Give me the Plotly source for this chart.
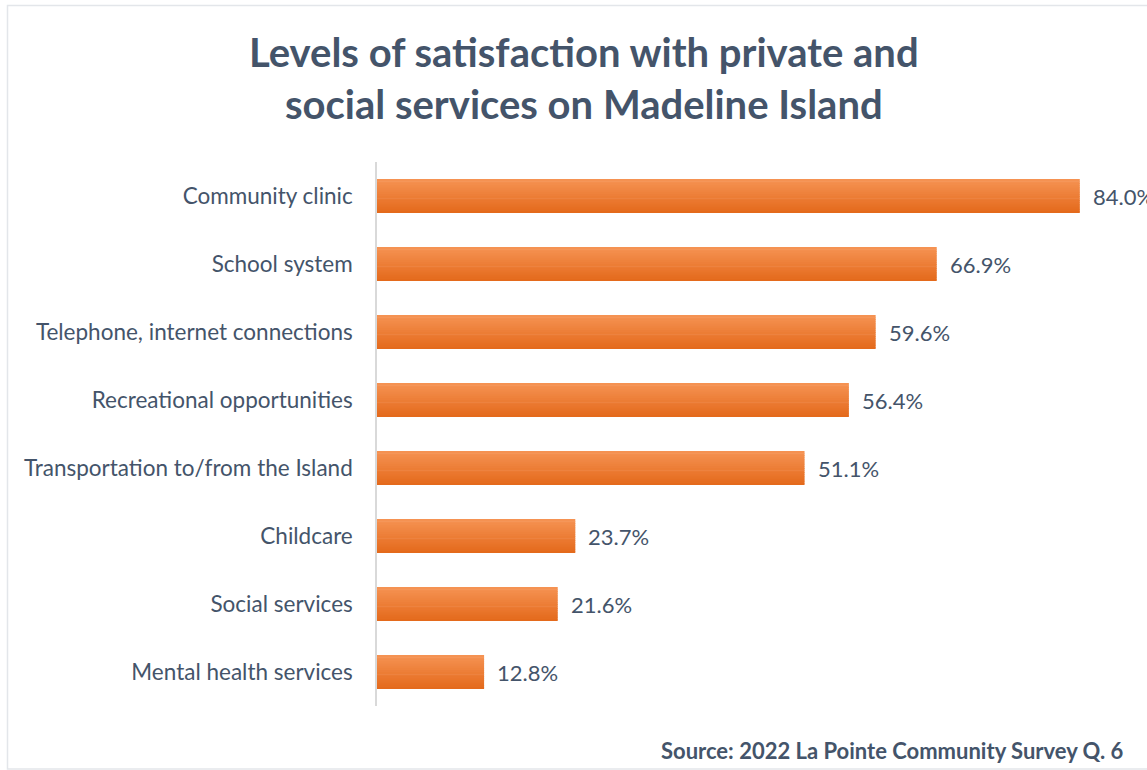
import plotly.graph_objects as go

# Survey results: share satisfied with each service
services = [
    "Community clinic",
    "School system",
    "Telephone, internet connections",
    "Recreational opportunities",
    "Transportation to/from the Island",
    "Childcare",
    "Social services",
    "Mental health services",
]
satisfied_pct = [84.0, 66.9, 59.6, 56.4, 51.1, 23.7, 21.6, 12.8]

TEXT = "#44546A"
FONT = "Lato"

# plot area in pixels, used to place page-level text in paper units
W, H = 1147, 770
L, R, T, B = 377, 17, 162, 64
PW, PH = W - L - R, H - T - B


def px(x):
    return (x - L) / PW


def py(y):
    return (H - B - y) / PH


# light-to-dark orange used to shade each bar from top to bottom
top_rgb = (245, 146, 82)
bot_rgb = (228, 106, 28)
n_slices = 16
bar_width = 0.5

fig = go.Figure()
for k in range(n_slices):
    t = k / (n_slices - 1)
    r, g, b = (round(a + (c - a) * t) for a, c in zip(top_rgb, bot_rgb))
    w = bar_width / n_slices
    fig.add_trace(go.Bar(
        x=satisfied_pct,
        y=services,
        orientation="h",
        width=w * 1.3 if k < n_slices - 1 else w,
        offset=-bar_width / 2 + k * w,
        marker=dict(color=f"rgb({r},{g},{b})", line=dict(width=0)),
        hoverinfo="x+y",
        showlegend=False,
    ))

for name, v in zip(services, satisfied_pct):
    fig.add_annotation(
        x=v, y=name, xref="x", yref="y",
        text=f"{v:.1f}%", showarrow=False,
        xanchor="left", yanchor="middle", xshift=11,
        font=dict(family=FONT, size=22, color=TEXT),
    )

fig.add_annotation(
    x=px(584), y=py(26), xref="paper", yref="paper",
    text="<b>Levels of satisfaction with private and<br>social services on Madeline Island</b>",
    showarrow=False, xanchor="center", yanchor="top",
    font=dict(family=FONT, size=40, color=TEXT),
)

fig.add_annotation(
    x=px(1126), y=py(766), xref="paper", yref="paper",
    text="<b>Source: 2022 La Pointe Community Survey Q. 6</b>",
    showarrow=False, xanchor="right", yanchor="bottom",
    font=dict(family=FONT, size=22, color=TEXT),
)

# thin frame around the chart
fig.add_shape(
    type="rect", xref="paper", yref="paper",
    x0=px(7.5), x1=px(1160), y0=py(769), y1=py(5.5),
    line=dict(color="#E3E6EA", width=1.5), fillcolor="rgba(0,0,0,0)",
    layer="below",
)

fig.update_layout(
    width=W, height=H,
    margin=dict(l=L, r=R, t=T, b=B),
    paper_bgcolor="white", plot_bgcolor="white",
    barmode="overlay",
    font=dict(family=FONT, size=22, color=TEXT),
    xaxis=dict(range=[0, 90], visible=False, fixedrange=True),
    yaxis=dict(
        autorange="reversed",
        showline=True, linecolor="#D9D9D9", linewidth=1.5,
        ticks="", ticklabelstandoff=18,
        showgrid=False, zeroline=False,
        tickfont=dict(family=FONT, size=22.5, color=TEXT),
    ),
)

fig.write_html("out.html")
